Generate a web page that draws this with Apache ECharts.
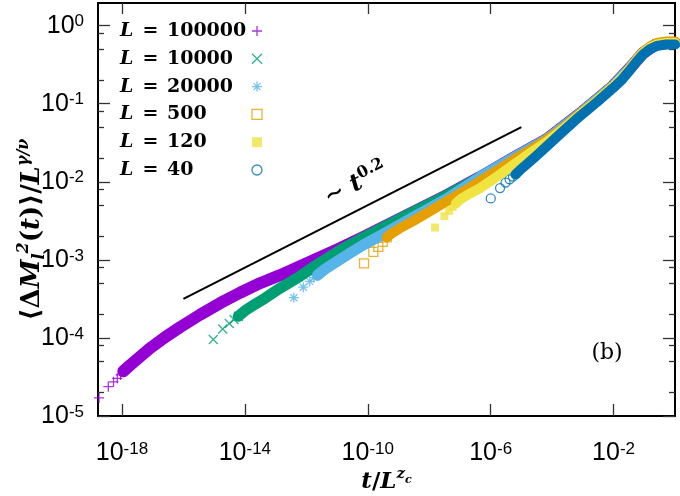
<!DOCTYPE html>
<html><head><meta charset="utf-8">
<script src="https://cdn.jsdelivr.net/npm/echarts@6/dist/echarts.min.js"></script>
<style>html,body{margin:0;padding:0;background:#fff}#c{width:680px;height:496px}</style>
</head><body><div id="c"></div>
<script>
// All values are log10 exponents: [log10(t/L^zc), log10(<dM^2>/L^(g/n))]
const sizeLabels = ['100000', '10000', '20000', '500', '120', '40'];

const L100000_marks = [[-18.747,-4.769],[-18.445,-4.624],[-18.275,-4.562],[-18.152,-4.517],[-18.047,-4.474],[-17.956,-4.427]];
const L100000_band = [[-17.956,-4.427],[-17.738,-4.350],[-17.413,-4.241],[-17.087,-4.132],[-16.599,-3.991],[-16.111,-3.863],[-15.460,-3.703],[-14.809,-3.555],[-14.158,-3.421],[-13.507,-3.299],[-12.855,-3.196],[-12.204,-3.081],[-11.553,-2.965],[-10.902,-2.850],[-10.154,-2.709],[-8.786,-2.440],[-7.419,-2.171],[-6.345,-1.940],[-5.271,-1.696],[-4.164,-1.453],[-3.090,-1.126],[-2.016,-0.773],[-1.462,-0.542],[-1.039,-0.350],[-0.648,-0.247],[-0.290,-0.222],[0.0,-0.222]];

const L10000_marks = [[-15.027,-4.021],[-14.721,-3.885],[-14.506,-3.815],[-14.353,-3.764],[-14.213,-3.722]];
const L10000_band = [[-14.213,-3.722],[-13.995,-3.651],[-13.669,-3.568],[-13.344,-3.491],[-12.855,-3.363],[-12.204,-3.209],[-11.553,-3.036],[-10.902,-2.876],[-10.154,-2.715],[-8.786,-2.440],[-7.419,-2.171],[-6.345,-1.940],[-5.271,-1.696],[-4.164,-1.453],[-3.090,-1.126],[-2.016,-0.773],[-1.462,-0.542],[-1.039,-0.350],[-0.648,-0.247],[-0.290,-0.222],[0.0,-0.222]];

const L20000_marks = [[-12.406,-3.485],[-12.097,-3.350],[-11.889,-3.276],[-11.749,-3.228],[-11.635,-3.196]];
const L20000_band = [[-11.635,-3.196],[-11.391,-3.119],[-11.065,-3.036],[-10.577,-2.914],[-10.154,-2.812],[-9.437,-2.658],[-8.526,-2.453],[-7.419,-2.215],[-6.345,-1.940],[-5.271,-1.696],[-4.164,-1.453],[-3.090,-1.126],[-2.016,-0.773],[-1.462,-0.542],[-1.039,-0.350],[-0.648,-0.247],[-0.290,-0.222],[0.0,-0.222]];

const L500_marks = [[-10.121,-3.046],[-9.818,-2.897],[-9.656,-2.833],[-9.512,-2.769],[-9.382,-2.713]];
const L500_band = [[-9.382,-2.713],[-9.210,-2.658],[-8.949,-2.594],[-8.526,-2.504],[-7.973,-2.376],[-7.419,-2.247],[-6.833,-2.113],[-6.345,-1.991],[-5.792,-1.856],[-5.271,-1.722],[-4.717,-1.594],[-4.164,-1.453],[-3.643,-1.312],[-3.090,-1.126],[-2.536,-0.953],[-2.016,-0.773],[-1.723,-0.671],[-1.462,-0.542],[-1.234,-0.427],[-1.039,-0.337],[-0.811,-0.267],[-0.583,-0.222],[-0.290,-0.203],[0.0,-0.203]];

const L120_marks = [[-7.810,-2.585],[-7.507,-2.440],[-7.354,-2.372],[-7.234,-2.321],[-7.133,-2.277]];
const L120_band = [[-7.133,-2.277],[-6.996,-2.228],[-6.768,-2.171],[-6.345,-2.081],[-5.792,-1.933],[-5.271,-1.786],[-4.717,-1.632],[-4.164,-1.485],[-3.643,-1.324],[-3.090,-1.138],[-2.536,-0.959],[-2.016,-0.780],[-1.723,-0.664],[-1.462,-0.549],[-1.234,-0.433],[-1.039,-0.350],[-0.811,-0.280],[-0.583,-0.241],[-0.290,-0.222],[0.0,-0.222]];

const L40_marks = [[-5.997,-2.213],[-5.694,-2.081],[-5.515,-2.010],[-5.385,-1.969],[-5.277,-1.933],[-5.189,-1.904]];
const L40_band = [[-5.189,-1.904],[-5.043,-1.850],[-4.815,-1.773],[-4.555,-1.683],[-4.164,-1.542],[-3.741,-1.388],[-3.090,-1.158],[-2.536,-0.978],[-2.016,-0.799],[-1.723,-0.690],[-1.462,-0.568],[-1.234,-0.453],[-1.039,-0.369],[-0.811,-0.299],[-0.583,-0.260],[-0.290,-0.241],[0.0,-0.241]];

const guideLine = [[-16, -3.5], [-5, -1.3]];   // ~ t^0.2

const xTickExps = [-18, -14, -10, -6, -2];
const yTickExps = [-5, -4, -3, -2, -1, 0];
const yMinorMultipliers = [2, 5, 8];

const X_MIN = -18.78, X_MAX = 0, Y_MIN = -5, Y_MAX = 0.29;

const plusPath = 'path://M5,0L5,10M0,5L10,5';
const crossPath = 'path://M0,0L10,10M0,10L10,0';
const starPath = 'path://M5,0L5,10M0,5L10,5M1.5,1.5L8.5,8.5M1.5,8.5L8.5,1.5';

const defs = [
  {marks: L100000_marks, band: L100000_band, color: '#9400d3', symbol: plusPath, size: 10, filled: false, bw: 12},
  {marks: L10000_marks,  band: L10000_band,  color: '#009e73', symbol: crossPath, size: 9, filled: false, bw: 11},
  {marks: L20000_marks,  band: L20000_band,  color: '#56b4e9', symbol: starPath, size: 10, filled: false, bw: 11},
  {marks: L500_marks,    band: L500_band,    color: '#e69f00', symbol: 'rect', size: 9, filled: false, bw: 10},
  {marks: L120_marks,    band: L120_band,    color: '#f0e442', symbol: 'rect', size: 8, filled: true, bw: 10},
  {marks: L40_marks,     band: L40_band,     color: '#0072b2', symbol: 'circle', size: 9, filled: false, bw: 10}
];

const names = sizeLabels.map(s => 'L = ' + s);
const series = [];
defs.forEach((d, i) => {
  series.push({
    type: 'line', name: 'band' + i, data: d.band, showSymbol: false, symbol: 'none', clip: false,
    lineStyle: {color: d.color, width: d.bw, cap: 'round', join: 'round'},
    itemStyle: {color: d.color}, silent: true, emphasis: {disabled: true}, animation: false
  });
  series.push({
    type: 'scatter', name: names[i], data: d.marks, symbol: d.symbol, symbolSize: d.size,
    itemStyle: d.filled ? {color: d.color} : {color: 'rgba(255,255,255,0)', borderColor: d.color, borderWidth: 1.3},
    silent: true, emphasis: {disabled: true}, animation: false
  });
});
series.push({
  type: 'line', name: 'guide', data: guideLine, showSymbol: false, symbol: 'none',
  lineStyle: {color: '#000', width: 2}, silent: true, animation: false
});

const minorVals = [];
yTickExps.forEach(k => yMinorMultipliers.forEach(m => {
  const v = k + Math.log10(m);
  if (v >= Y_MIN && v <= Y_MAX) minorVals.push(v);
}));

const tickRich = {
  b: {fontFamily: 'Liberation Sans', fontSize: 25, lineHeight: 25, padding: [9, 0, 9, 0], color: '#000'},
  s: {fontFamily: 'Liberation Sans', fontSize: 17, lineHeight: 17, verticalAlign: 'top', color: '#000'}
};
const fmt = v => '{b|10}{s|' + v + '}';
const tickLine = {color: '#333', width: 1.3};

// tick-only axis
function tickAxis(pos, vals, len, isX) {
  return {
    type: 'value', position: pos, min: isX ? X_MIN : Y_MIN, max: isX ? X_MAX : Y_MAX,
    axisLine: {show: false, onZero: false}, splitLine: {show: false},
    axisTick: {show: true, inside: true, length: len, customValues: vals, lineStyle: tickLine},
    axisLabel: {show: false}
  };
}

const ySerif = 'DejaVu Serif';
const yLabelAxis = {
  type: 'value', position: 'left', min: Y_MIN, max: Y_MAX,
  axisLine: {show: false, onZero: false}, splitLine: {show: false}, axisTick: {show: false},
  axisLabel: {show: true, customValues: yTickExps, formatter: fmt, margin: 14, rich: tickRich},
  name: '{n|⟨Δ}{i|M}{sb|l}{sp|2}{n|(}{i|t}{n|)⟩/}{i|L}{sp|γ/ν}',
  nameLocation: 'middle', nameRotate: 90, nameGap: 50, nameMoveOverlap: false,
  nameTextStyle: {
    padding: [0, 40, 0, 0],
    rich: {
      n: {fontFamily: ySerif, fontWeight: 'bold', fontSize: 26, lineHeight: 32, color: '#000'},
      i: {fontFamily: ySerif, fontWeight: 'bold', fontStyle: 'italic', fontSize: 26, lineHeight: 32, color: '#000'},
      sb: {fontFamily: ySerif, fontWeight: 'bold', fontStyle: 'italic', fontSize: 16, lineHeight: 16, verticalAlign: 'bottom', color: '#000'},
      sp: {fontFamily: ySerif, fontWeight: 'bold', fontStyle: 'italic', fontSize: 16, lineHeight: 16, verticalAlign: 'top', color: '#000'}
    }
  }
};

const xLabelAxis = {
  type: 'value', position: 'bottom', min: X_MIN, max: X_MAX,
  axisLine: {show: false, onZero: false}, splitLine: {show: false}, axisTick: {show: false},
  axisLabel: {show: true, customValues: xTickExps, formatter: fmt, margin: 25, rich: tickRich},
  name: '{i|t}{n|/}{i|L}{sp|z}{sc|c}', nameLocation: 'middle', nameGap: 51, nameMoveOverlap: false,
  nameTextStyle: {
    rich: {
      n: {fontFamily: ySerif, fontWeight: 'bold', fontSize: 23, lineHeight: 30, color: '#000'},
      i: {fontFamily: ySerif, fontWeight: 'bold', fontStyle: 'italic', fontSize: 23, lineHeight: 30, color: '#000'},
      sp: {fontFamily: ySerif, fontWeight: 'bold', fontStyle: 'italic', fontSize: 15, lineHeight: 15, verticalAlign: 'top', color: '#000'},
      sc: {fontFamily: ySerif, fontWeight: 'bold', fontStyle: 'italic', fontSize: 11, lineHeight: 11, verticalAlign: 'top', padding: [8, 0, 0, 0], color: '#000'}
    }
  }
};

const option = {
  animation: false,
  grid: {left: 98, right: 5, top: 3, bottom: 80, show: true, borderColor: '#000', borderWidth: 2, backgroundColor: 'rgba(0,0,0,0)', outerBoundsMode: 'none'},
  xAxis: [
    xLabelAxis,
    tickAxis('bottom', xTickExps, 12, true),
    tickAxis('top', xTickExps, 11, true)
  ],
  yAxis: [
    yLabelAxis,
    tickAxis('left', yTickExps, 12, false),
    tickAxis('left', minorVals, 6, false),
    tickAxis('right', yTickExps, 12, false),
    tickAxis('right', minorVals, 6, false)
  ],
  legend: {
    show: true, orient: 'vertical', left: 120, top: 21.5, padding: 0, itemGap: 8.8,
    align: 'right', itemWidth: 10, itemHeight: 10, selectedMode: false,
    data: names,
    itemStyle: {borderWidth: 1.3},
    formatter: name => '{i|L}{n| \u200a=\u200a ' + name.replace('L = ', '') + '}',
    textStyle: {
      rich: {
        i: {fontFamily: 'DejaVu Serif', fontStyle: 'italic', fontWeight: 'bold', fontSize: 19, lineHeight: 18, width: 14, align: 'left', color: '#000'},
        n: {fontFamily: 'DejaVu Serif', fontWeight: 'bold', fontSize: 19, lineHeight: 18, width: 113, align: 'left', color: '#000'}
      }
    }
  },
  graphic: [
    {
      type: 'text', x: 356, y: 184, rotation: 27 * Math.PI / 180, silent: true,
      style: {
        text: '{a|∼ }{t|t}{s|0.2}', align: 'center', verticalAlign: 'middle',
        rich: {
          a: {fontFamily: 'DejaVu Serif', fontWeight: 'bold', fontSize: 24, lineHeight: 30, fill: '#000'},
          t: {fontFamily: 'DejaVu Serif', fontWeight: 'bold', fontStyle: 'italic', fontSize: 24, lineHeight: 30, fill: '#000'},
          s: {fontFamily: 'DejaVu Serif', fontWeight: 'bold', fontSize: 16, lineHeight: 16, verticalAlign: 'top', fill: '#000'}
        }
      }
    },
    {
      type: 'text', x: 607, y: 353, silent: true,
      style: {text: '(b)', fontFamily: 'DejaVu Serif', fontSize: 22, align: 'center', verticalAlign: 'middle', fill: '#000'}
    }
  ],
  series: series
};

const chart = echarts.init(document.getElementById('c'), null, {renderer: 'canvas'});
chart.setOption(option);
</script>
</body></html>
